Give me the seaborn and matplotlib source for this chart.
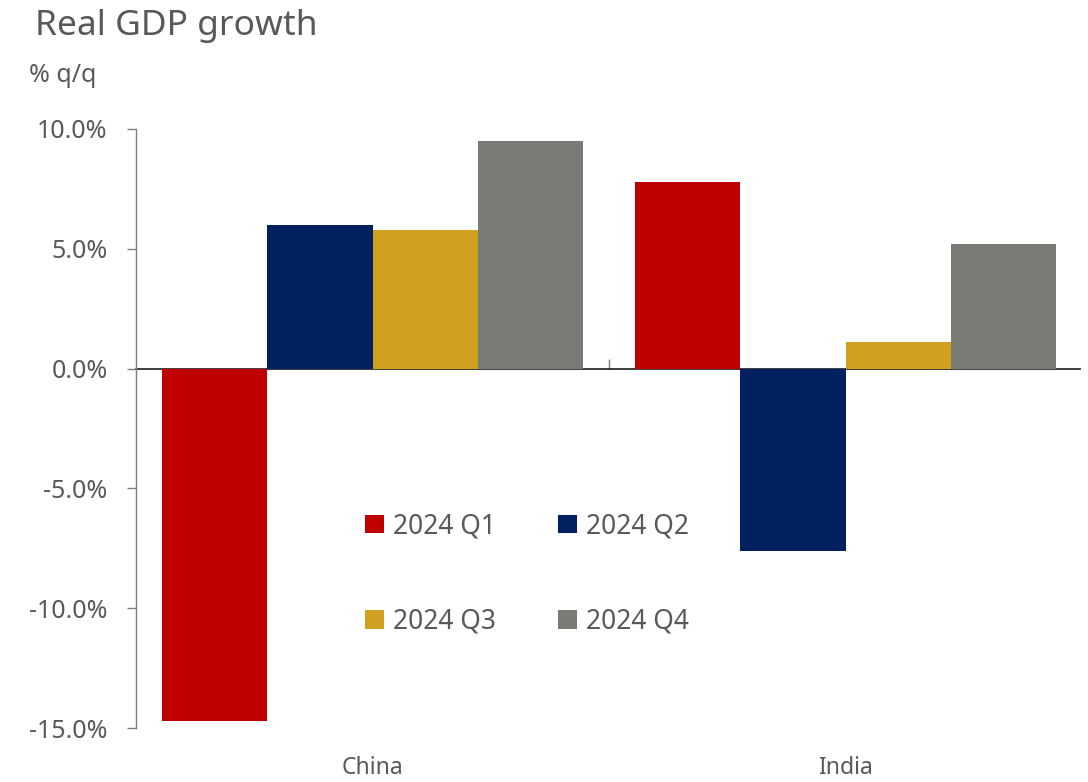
import matplotlib
matplotlib.use("Agg")
import matplotlib.pyplot as plt
import seaborn as sns
import pandas as pd
from matplotlib.ticker import FuncFormatter, FixedLocator

countries = ["China", "India"]
quarters = ["2024 Q1", "2024 Q2", "2024 Q3", "2024 Q4"]
china_vals = [-14.7, 6.0, 5.8, 9.5]
india_vals = [7.8, -7.6, 1.1, 5.2]
colors = ["#C00000", "#002060", "#D0A020", "#7B7B75"]
yticks = [10, 5, 0, -5, -10, -15]

rows = []
for c, vals in zip(countries, [china_vals, india_vals]):
    for q, v in zip(quarters, vals):
        rows.append({"country": c, "quarter": q, "value": v})
df = pd.DataFrame(rows)

sns.set_theme(style="white")
plt.rcParams["font.family"] = ["Noto Sans", "DejaVu Sans"]
TXT = "#595959"
AX = "#7F7F7F"

fig = plt.figure(figsize=(10.88, 7.82), dpi=100)
ax = fig.add_axes([136/1088, 1-728/782, (1080-136)/1088, (728-129)/782])

sns.barplot(data=df, x="country", y="value", hue="quarter", order=countries,
            hue_order=quarters, palette=colors, width=0.89, gap=0,
            saturation=1, ax=ax, legend=True, edgecolor="none", linewidth=0)

ax.set_ylim(-15, 10)
ax.set_xlim(-0.5, 1.495)
ax.yaxis.set_major_locator(FixedLocator(yticks))
ax.yaxis.set_major_formatter(FuncFormatter(lambda v, p: f"{v:.1f}%"))
ax.set_xlabel("")
ax.set_ylabel("")

for s in ["top", "right", "bottom"]:
    ax.spines[s].set_visible(False)
ax.spines["left"].set_color(AX)
ax.spines["left"].set_linewidth(1.0)
ax.tick_params(axis="y", direction="out", length=6.5, width=1.0, color=AX,
               labelsize=18, labelcolor=TXT, pad=14, left=True)
ax.tick_params(axis="x", length=0, labelsize=16.5, labelcolor=TXT, pad=20)

# zero line as secondary axis with category separator tick
sec = ax.secondary_xaxis(15/25)
sec.spines["bottom"].set_color(AX)
sec.spines["bottom"].set_linewidth(1.0)
sec.set_xticks([0.5])
sec.set_xticklabels([""])
sec.tick_params(axis="x", direction="out", length=7, width=1.0, color=AX)

handles, labels = ax.get_legend_handles_labels()
order = [0, 2, 1, 3]
ax.legend([handles[i] for i in order], [labels[i] for i in order],
          ncol=2, loc="upper left", bbox_to_anchor=(0.243, 0.36),
          frameon=False, fontsize=19, labelcolor=TXT,
          handlelength=0.7, handleheight=0.7, handletextpad=0.35,
          columnspacing=2.35, labelspacing=2.55, borderpad=0, borderaxespad=0)

fig.text(35/1088, 1-26/782, "Real GDP growth", fontsize=25.5, color=TXT,
         ha="left", va="center")
fig.text(29/1088, 1-76/782, "% q/q", fontsize=18, color=TXT,
         ha="left", va="center")

fig.savefig("out.png", dpi=100)
